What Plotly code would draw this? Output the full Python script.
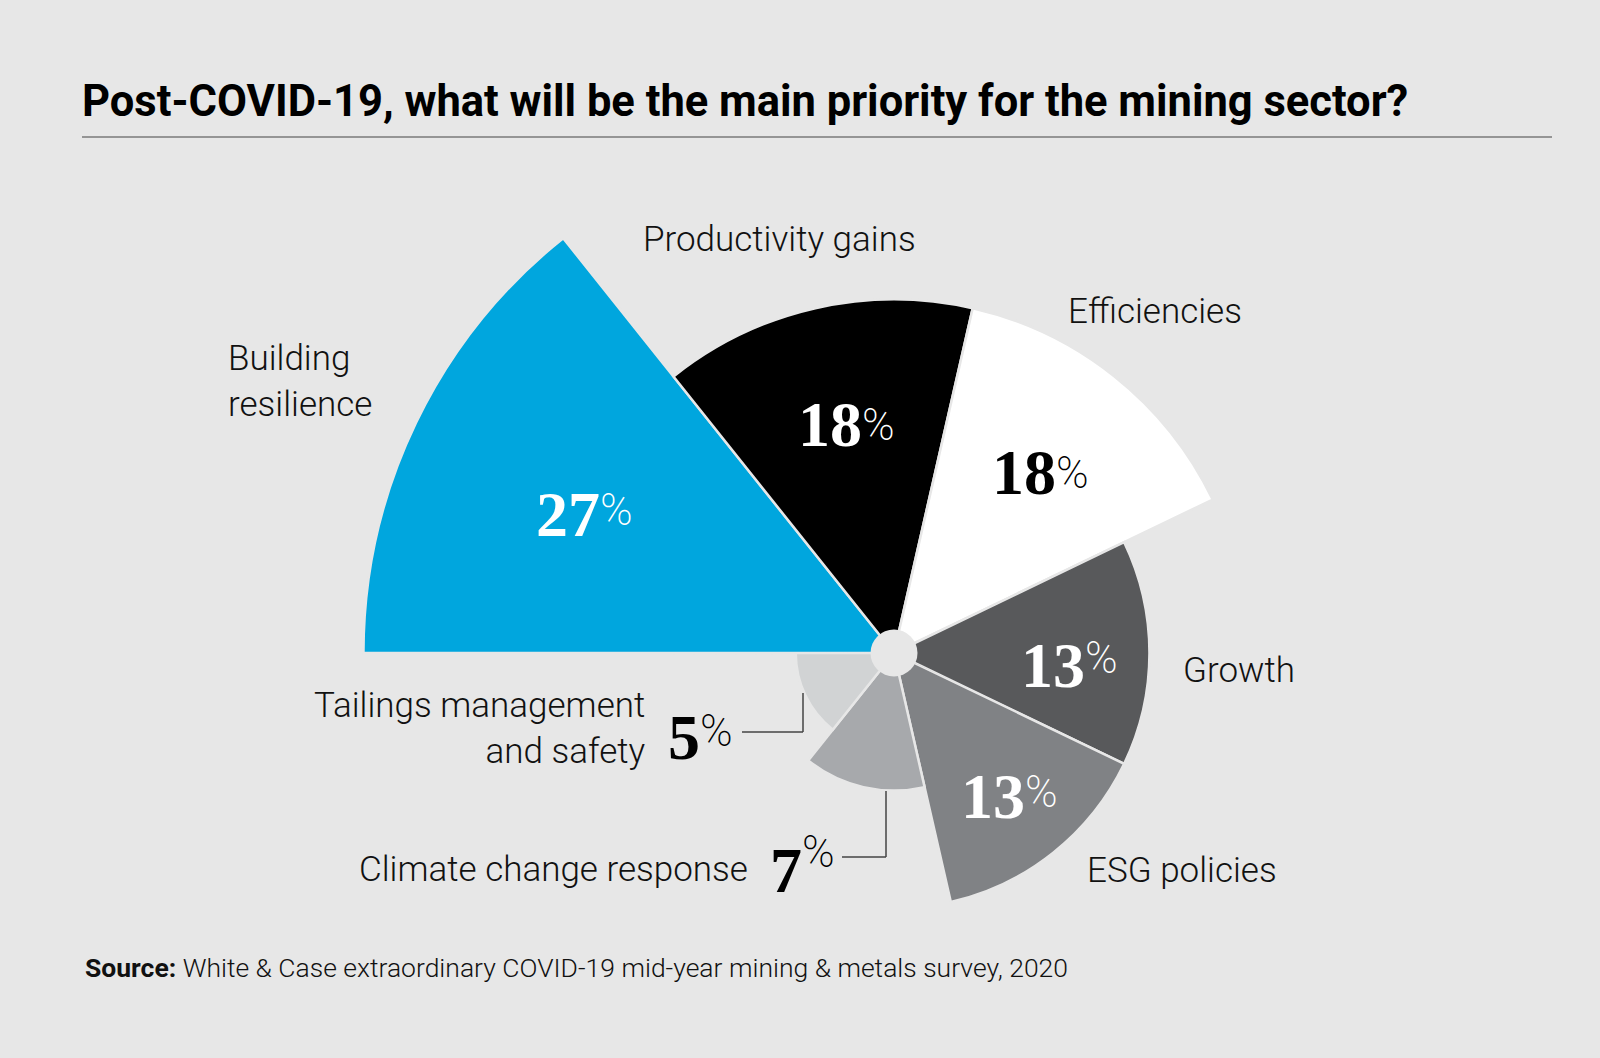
import math
import plotly.graph_objects as go

# ---------------- data ----------------
categories = [
    "Building resilience",
    "Productivity gains",
    "Efficiencies",
    "Growth",
    "ESG policies",
    "Climate change response",
    "Tailings management and safety",
]
values = [27, 18, 18, 13, 13, 7, 5]
label_texts = [
    "Building<br>resilience",
    "Productivity gains",
    "Efficiencies",
    "Growth",
    "ESG policies",
    "Climate change response",
    "Tailings management<br>and safety",
]
colors = ["#00a6de", "#000000", "#ffffff", "#58595b", "#808285", "#a7a9ac", "#d1d3d4"]
pct_colors = ["#ffffff", "#ffffff", "#000000", "#ffffff", "#ffffff", "#000000", "#000000"]

title_text = "Post-COVID-19, what will be the main priority for the mining sector?"
source_text = "<b>Source:</b> White &amp; Case extraordinary COVID-19 mid-year mining &amp; metals survey, 2020"

# ---------------- layout geometry ----------------
W, H = 1600, 1058
BG = "#e7e7e7"
CX, CY = 894, 653          # centre of the rose (px)
PX_PER_UNIT = 19.65        # radial scale (px per %)

n = len(categories)
step = 360.0 / n
rotation = 180 - step / 2          # first wedge starts at 9 o'clock, goes clockwise
thetas = [i * step for i in range(n)]


def X(px):
    return px / W


def Y(py):
    return 1 - py / H


def sector_bbox(sector):
    """Same computation plotly.js uses for a polar sector bounding box."""
    s0, s1 = sector
    arc = s1 - s0
    a0 = s0 % 360
    a1 = a0 + arc
    ax0, ay0 = math.cos(math.radians(a0)), math.sin(math.radians(a0))
    ax1, ay1 = math.cos(math.radians(a1)), math.sin(math.radians(a1))
    if (a0 <= 90 and a1 >= 90) or (a0 > 90 and a1 >= 450):
        y1 = 1
    elif ay0 <= 0 and ay1 <= 0:
        y1 = 0
    else:
        y1 = max(ay0, ay1)
    if (a0 <= 180 and a1 >= 180) or (a0 > 180 and a1 >= 540):
        x0 = -1
    elif ax0 >= 0 and ax1 >= 0:
        x0 = 0
    else:
        x0 = min(ax0, ax1)
    if (a0 <= 270 and a1 >= 270) or (a0 > 270 and a1 >= 630):
        y0 = -1
    elif ay0 >= 0 and ay1 >= 0:
        y0 = 0
    else:
        y0 = min(ay0, ay1)
    if a1 >= 360:
        x1 = 1
    elif ax0 <= 0 and ax1 <= 0:
        x1 = 0
    else:
        x1 = max(ax0, ax1)
    return x0, y0, x1, y1


def polar_layout(sector, rmax):
    x0, y0, x1, y1 = sector_bbox(sector)
    rpx = rmax * PX_PER_UNIT
    return dict(
        sector=list(sector),
        domain=dict(x=[X(CX + rpx * x0), X(CX + rpx * x1)],
                    y=[Y(CY - rpx * y0), Y(CY - rpx * y1)]),
        bgcolor="rgba(0,0,0,0)",
        hole=0,
        radialaxis=dict(visible=False, range=[0, rmax]),
        angularaxis=dict(visible=False, type="linear", thetaunit="degrees",
                         direction="clockwise", rotation=rotation),
    )


# split wedges into upper part (needs large radius) and lower part
split_angle = -step / 2                       # boundary Growth / ESG
mid_angles = [rotation - t for t in thetas]
upper = [i for i in range(n) if mid_angles[i] > split_angle]
lower = [i for i in range(n) if mid_angles[i] <= split_angle]
pad = 0.5
upper_sector = (split_angle - pad, 180 + pad)
lower_sector = (-180 - pad, split_angle + pad)

fig = go.Figure()
for idx, sub in ((upper, "polar"), (lower, "polar2")):
    fig.add_trace(go.Barpolar(
        r=[values[i] for i in idx],
        theta=[thetas[i] for i in idx],
        width=step,
        marker=dict(color=[colors[i] for i in idx], line=dict(color=BG, width=2.5)),
        hoverinfo="skip",
        subplot=sub,
    ))
# centre disc (placed at an angle inside the lower sector so it is not hidden)
fig.add_trace(go.Scatterpolar(
    r=[0], theta=[thetas[lower[len(lower) // 2]]], mode="markers",
    marker=dict(size=47, color=BG, line=dict(width=0)),
    cliponaxis=False, hoverinfo="skip", subplot="polar2",
))

SANS_LIGHT = "Roboto, 'Liberation Sans', sans-serif"
SERIF = "'Liberation Serif', 'DejaVu Serif', serif"

annotations = []

# category labels: (x px, y px, xanchor)
label_pos = [
    (226, 381, "left"),
    (641, 239, "left"),
    (1066, 311, "left"),
    (1181, 670, "left"),
    (1085, 870, "left"),
    (750, 869, "right"),
    (648, 728, "right"),
]
for txt, (lx, ly, xa) in zip(label_texts, label_pos):
    annotations.append(dict(
        text=txt, x=X(lx), y=Y(ly), xref="paper", yref="paper",
        xanchor=xa, yanchor="middle", showarrow=False, align=xa,
        font=dict(family=SANS_LIGHT, size=35, color="#111111", weight=300),
    ))

# percentage labels: (junction x, digit centre y, percent centre y)
pct_pos = [
    (601, 514, 510),
    (863, 424, 425),
    (1057, 472, 473),
    (1086, 665, 658),
    (1026, 796, 792),
    (803, 870, 852),
    (701, 737, 731),
]
for v, col, (jx, dy, py) in zip(values, pct_colors, pct_pos):
    annotations.append(dict(
        text=f"<b>{v}</b>", x=X(jx + 1), y=Y(dy), xref="paper", yref="paper",
        xanchor="right", yanchor="middle", showarrow=False,
        font=dict(family=SERIF, size=64, color=col),
    ))
    annotations.append(dict(
        text="%", x=X(jx - 3), y=Y(py), xref="paper", yref="paper",
        xanchor="left", yanchor="middle", showarrow=False,
        font=dict(family=SANS_LIGHT, size=44, color=col, weight=200),
    ))

# title and source
annotations.append(dict(
    text=f"<b>{title_text}</b>", x=X(80), y=Y(101), xref="paper", yref="paper",
    xanchor="left", yanchor="middle", showarrow=False,
    font=dict(family="Roboto, sans-serif", size=43.5, color="#000000"),
))
annotations.append(dict(
    text=source_text, x=X(83), y=Y(967), xref="paper", yref="paper",
    xanchor="left", yanchor="middle", showarrow=False,
    font=dict(family="Roboto, sans-serif", size=26.5, color="#111111", weight=300),
))

LINE = dict(color="#444444", width=1.5)
shapes = [
    dict(type="line", xref="paper", yref="paper", x0=X(82), x1=X(1552), y0=Y(137), y1=Y(137),
         line=dict(color="#7a7a7a", width=1.5)),
    # tailings leader
    dict(type="line", xref="paper", yref="paper", x0=X(803), x1=X(803), y0=Y(693), y1=Y(732), line=LINE),
    dict(type="line", xref="paper", yref="paper", x0=X(742), x1=X(803), y0=Y(732), y1=Y(732), line=LINE),
    # climate leader
    dict(type="line", xref="paper", yref="paper", x0=X(886), x1=X(886), y0=Y(791), y1=Y(857), line=LINE),
    dict(type="line", xref="paper", yref="paper", x0=X(842), x1=X(886), y0=Y(857), y1=Y(857), line=LINE),
]

fig.update_layout(
    width=W, height=H,
    margin=dict(l=0, r=0, t=0, b=0),
    paper_bgcolor=BG, plot_bgcolor=BG,
    showlegend=False,
    polar=polar_layout(upper_sector, 28),
    polar2=polar_layout(lower_sector, 14),
    annotations=annotations,
    shapes=shapes,
)

fig.write_html(
    "out.html",
    config={"displayModeBar": False},
    post_script="document.body.style.margin='0';document.body.style.overflow='hidden';",
)
